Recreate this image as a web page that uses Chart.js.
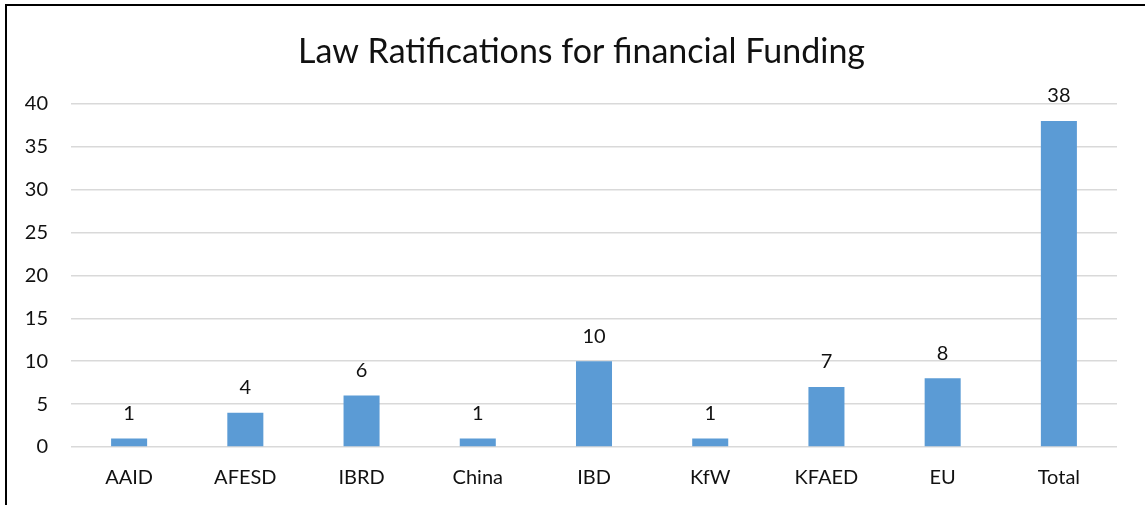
<!DOCTYPE html>
<html>
    <head>
        <style>
            body { margin: 0; background: #fff; }
            #frame { position: absolute; left: 0; top: 0; width: 1145px; height: 505px; }
            #frame:before { content: ""; position: absolute; left: 5px; top: 4px; right: 0; bottom: 0; border-left: 2px solid #000; border-top: 2px solid #000; pointer-events: none; }
        </style>
    </head>
    <body>
        <div id="frame">
            <canvas id="chart" width="1145" height="505"></canvas>
        </div>
    </body>
    <script src="https://cdn.jsdelivr.net/npm/chart.js"></script>
    <script>
        const categories = ["AAID", "AFESD", "IBRD", "China", "IBD", "KfW", "KFAED", "EU", "Total"];
        const ratifications = [1, 4, 6, 1, 10, 1, 7, 8, 38];
        const yTicks = [0, 5, 10, 15, 20, 25, 30, 35, 40];

        const font = "Lato, 'Open Sans', sans-serif";

        // numbers above the bars
        const barLabels = {
            id: "barLabels",
            afterDatasetsDraw(chart) {
                const ctx = chart.ctx;
                const meta = chart.getDatasetMeta(0);
                ctx.save();
                ctx.font = "20px " + font;
                ctx.fillStyle = "#111";
                ctx.textAlign = "center";
                ctx.textBaseline = "middle";
                meta.data.forEach((bar, i) => {
                    ctx.fillText(String(ratifications[i]), bar.x, bar.y - 25);
                });
                ctx.restore();
            }
        };

        const config = {
            type: "bar",
            data: {
                labels: categories,
                datasets: [{
                    data: ratifications,
                    backgroundColor: "#5B9BD5",
                    borderWidth: 0,
                    categoryPercentage: 1,
                    barPercentage: 0.31
                }]
            },
            options: {
                responsive: false,
                animation: false,
                layout: { padding: { left: 23, right: 5, top: 10, bottom: 0 } },
                plugins: {
                    legend: { display: false },
                    tooltip: { enabled: false },
                    title: {
                        display: true,
                        text: "Law Ratifications for financial Funding",
                        color: "#111",
                        font: { family: font, size: 34, weight: "normal", lineHeight: 1.2 },
                        padding: { top: 22, bottom: 31 }
                    }
                },
                scales: {
                    x: {
                        grid: { display: false, drawTicks: false },
                        border: { display: false },
                        ticks: { color: "#111", font: { family: font, size: 20 }, padding: 19, maxRotation: 0 },
                        afterFit: (s) => { s.height = 58; }
                    },
                    y: {
                        min: 0,
                        max: 40,
                        afterBuildTicks: (s) => { s.ticks = yTicks.map(v => ({ value: v })); },
                        grid: { color: "#D9D9D9", lineWidth: 1.5, drawTicks: false },
                        border: { display: false },
                        ticks: { color: "#111", font: { family: font, size: 20 }, padding: 23 },
                        afterFit: (s) => { s.width = 48; }
                    },
                    // empty strip on the right, keeps the plot clear of the edge
                    yRight: {
                        position: "right",
                        min: 0,
                        max: 40,
                        grid: { display: false, drawTicks: false },
                        border: { display: false },
                        ticks: { display: false },
                        afterFit: (s) => { s.width = 23; }
                    }
                }
            },
            plugins: [barLabels]
        };

        const chart = new Chart(document.getElementById("chart"), config);
    </script>
</html>
